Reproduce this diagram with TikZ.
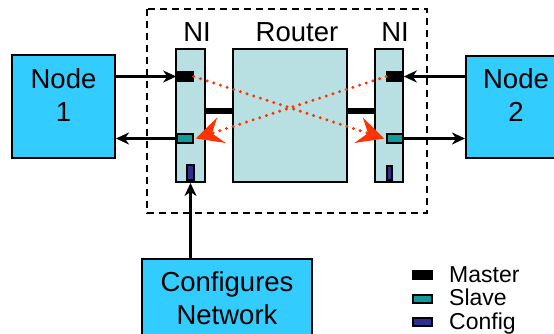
\documentclass[tikz,border=0pt]{standalone}
\usepackage{fontspec}
\setmainfont{Liberation Sans}
\usetikzlibrary{arrows.meta}
\definecolor{nodeblue}{HTML}{33CCFF}
\definecolor{nifill}{HTML}{B8DFE2}
\definecolor{slavecol}{HTML}{109A9A}
\definecolor{configcol}{HTML}{2E2E8F}
\definecolor{redarrow}{HTML}{FF3300}
\begin{document}
\begin{tikzpicture}[x=1pt,y=-1pt,
  box/.style={draw=black, line width=2pt, inner sep=0pt},
  bluebox/.style={box, fill=nodeblue},
  nibox/.style={box, fill=nifill},
  big/.style={font=\fontsize{27.5}{33}\selectfont, inner sep=0pt, align=center},
  lbl/.style={font=\fontsize{27.5}{33}\selectfont, inner sep=0pt, anchor=base},
  leg/.style={font=\fontsize{23}{27}\selectfont, anchor=base west, inner sep=0pt},
  port/.style={draw=black, line width=1.6pt, inner sep=0pt},
  conn/.style={line width=3.2pt, -{Stealth[length=13pt,width=12pt,inset=4pt]}},
  reddot/.style={draw=redarrow, line width=3.3pt, line cap=round, dash pattern=on 0pt off 7pt,
    -{Stealth[length=27pt 0 0, width=27pt 0, inset=10pt 0, line width=0pt]}},
  bar/.style={line width=6pt},
  frame/.style={draw=black, line width=2pt, dash pattern=on 7pt off 5pt}
]
\useasboundingbox (0,0) rectangle (554,334);
\clip (0,0) rectangle (554,334);

% dashed frame
\draw[frame] (147,9) rectangle (427,213);

% main boxes
\node[bluebox, minimum width=103pt, minimum height=103pt] (n1) at (63.5,106.5) {};
\node[bluebox, minimum width=100pt, minimum height=102pt] (n2) at (516,107) {};
\node[nibox, minimum width=29pt, minimum height=133pt] (niL) at (190.5,115.5) {};
\node[nibox, minimum width=114pt, minimum height=133pt] (rt) at (290,115.5) {};
\node[nibox, minimum width=28pt, minimum height=133pt] (niR) at (389,115.5) {};
\node[bluebox, minimum width=170pt, minimum height=80pt] (cfg) at (227,299) {};

% texts
\node[big] (n1t) at (63.5,95.5) {Node\\1};
\node[big] (n2t) at (516,95.5) {Node\\2};
\node[big] (cfgt) at (227,298) {Configures\\Network};
\node[lbl] (niLt) at (197,42) {NI};
\node[lbl] (rtt) at (297,42) {Router};
\node[lbl] (niRt) at (395,42) {NI};

% ports
\node[port, fill=black, minimum width=16pt, minimum height=9pt] (mL) at (185,76.5) {};
\node[port, fill=slavecol, minimum width=16pt, minimum height=9pt] (sL) at (185,138.5) {};
\node[port, fill=configcol, minimum width=7pt, minimum height=15pt] (cL) at (190.5,172.5) {};
\node[port, fill=black, minimum width=16pt, minimum height=9pt] (mR) at (395,76.5) {};
\node[port, fill=slavecol, minimum width=16pt, minimum height=9pt] (sR) at (395,138.5) {};
\node[port, fill=configcol, minimum width=5pt, minimum height=14pt] (cR) at (389.5,173) {};

% NI-router links
\draw[bar] ([yshift=4.5pt]niL.east) -- ([yshift=4.5pt]rt.west);
\draw[bar] ([yshift=4.5pt]rt.east) -- ([yshift=4.5pt]niR.west);

% black connectors
\draw[conn] (n1.east |- mL.west) -- (mL.west);
\draw[conn] (sL.west) -- (n1.east |- sL.west);
\draw[conn] (n2.west |- mR.east) -- (mR.east);
\draw[conn] (sR.east) -- (n2.west |- sR.east);
\draw[conn] (cfg.north -| cL.south) -- (niL.south -| cL.south);

% red dotted crossings
\draw[reddot] (mL.east) -- ([xshift=-2pt]sR.west);
\draw[reddot] (mR.west) -- ([xshift=2pt]sL.east);

% legend
\node[port, fill=black, minimum width=19pt, minimum height=8pt] (lm) at (422.5,275) {};
\node[port, fill=slavecol, minimum width=19pt, minimum height=8pt] (ls) at (422.5,299) {};
\node[port, fill=configcol, minimum width=19pt, minimum height=8pt] (lc) at (422.5,322) {};
\node[leg] (lmt) at (449,282) {Master};
\node[leg] (lst) at (449,305) {Slave};
\node[leg] (lct) at (449,329) {Config};
\end{tikzpicture}
\end{document}
